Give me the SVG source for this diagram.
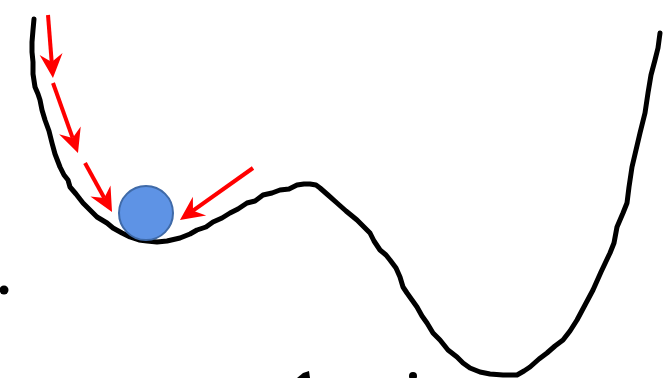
<svg xmlns="http://www.w3.org/2000/svg" width="664" height="378" viewBox="0 0 664 378">
  <style>
    .curve { fill: none; stroke: #000; stroke-width: 5; stroke-linejoin: round; stroke-linecap: round; }
    .arrow { fill: none; stroke: #ff0000; stroke-width: 4; marker-end: url(#stealth); }
    .ball { fill: #5e93e5; stroke: #3f6aa8; stroke-width: 2; }
    .ink { fill: #000; }
  </style>
  <defs>
    <marker id="stealth" markerUnits="userSpaceOnUse" viewBox="-26 -13 28 26" refX="-16" refY="0" markerWidth="28" markerHeight="26" orient="auto">
      <polygon points="0,0 -24,-11.5 -16,0 -24,11.5" fill="#ff0000"/>
    </marker>
  </defs>
  <rect width="664" height="378" fill="#fff"/>

  <!-- energy landscape, hand-drawn wobble -->
  <g id="landscape">
    <polyline class="curve" points="34,19 33,30 32,42 32,52 33,62 33,74 35,87 38,94 40,100 42,110 45,120 49,131 51,139 52,143 55,154 60,167 64,175 68,180 70,187 76,194 83,203 90,210 97,217 102,220 107,223 113,228 122,233 130,237 139,240 147,241 157,242 167,241 180,238 190,234 197,230 206,227 213,222 222,218 230,213 238,209 247,203 255,201 263,195 272,193 280,190 289,189 297,185 304,184 310,184 316,185 320,188 328,195 337,203 346,211 357,220 364,227 370,233 374,241 380,250 386,255 390,260 396,268 400,277 403,287 407,293 412,300 417,307 422,316 427,323 433,333 440,340 448,350 457,357 463,363 470,368 480,372 490,374 503,375 517,375 524,371 530,367 539,359 547,353 555,346 563,340 570,331 577,320 585,305 593,290 601,272 610,253 614,243 617,227 623,213 627,203 629,187 632,167 636,150 640,133 645,113 648,93 651,75 655,60 658,48 660,33"/>
  </g>

  <!-- arrows pushing toward the ball -->
  <g id="connectors">
    <line class="arrow" x1="48" y1="15" x2="51.7" y2="62"/>
    <line class="arrow" x1="53" y1="83" x2="72.6" y2="137.9"/>
    <line class="arrow" x1="85" y1="163" x2="104.3" y2="198"/>
    <line class="arrow" x1="253" y1="168" x2="193" y2="210.7"/>
  </g>

  <g id="ball">
    <circle class="ball" cx="146" cy="213" r="27"/>
  </g>

  <!-- marks along the edges -->
  <g id="edge-marks">
    <circle class="ink" cx="4" cy="290" r="4.5"/>
    <polygon class="ink" points="297,378 303,373 309,371 310,378"/>
    <circle class="ink" cx="413" cy="376" r="4"/>
  </g>
</svg>
